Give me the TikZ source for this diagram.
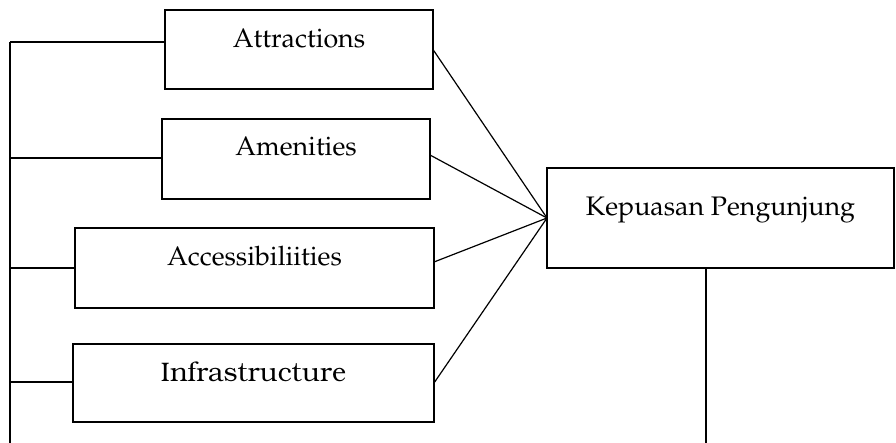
\documentclass[tikz,border=0pt]{standalone}
\IfFileExists{t1ppl.fd}{%
  \usepackage[T1]{fontenc}
  \newcommand\palfont{\fontfamily{ppl}\selectfont}
  \IfFileExists{t1pbk.fd}{\newcommand\bkfont{\fontfamily{pbk}\fontseries{l}\selectfont}}{\newcommand\bkfont{\palfont}}
}{%
  \usepackage{fontspec}
  \newfontfamily\palfont{Liberation Serif}
  \newfontfamily\bkfont{DejaVu Serif}
}
\usetikzlibrary{calc}
\tikzset{
  boxnode/.style={draw, line width=1.1pt, rectangle, anchor=north west, inner sep=0pt, outer sep=0pt},
  lbl/.style={anchor=base, inner sep=0pt, font=\fontsize{13.4}{16}\palfont},
  conn/.style={line width=0.6pt}
}
\begin{document}
\begin{tikzpicture}[x=0.5pt, y=-0.5pt]
\useasboundingbox (0,0) rectangle (896,443);
\node[boxnode, minimum width=134pt, minimum height=39.5pt] (a) at (165,10) {};
\node[boxnode, minimum width=134pt, minimum height=40pt] (m) at (162,119) {};
\node[boxnode, minimum width=179.5pt, minimum height=40pt] (c) at (75,228) {};
\node[boxnode, minimum width=180.5pt, minimum height=39pt] (i) at (73,344) {};
\node[boxnode, minimum width=173.5pt, minimum height=50pt] (k) at (547,168) {};
\node[lbl] (at) at ($(a.north)+(0,38)$) {Attractions};
\node[lbl] (mt) at ($(m.north)+(0,37)$) {Amenities};
\node[lbl] (ct) at ($(c.north)+(0,38)$) {Accessibiliities};
\node[lbl, font=\fontsize{13.4}{16}\bkfont] (it) at ($(i.north)+(0,38)$) {Infrastructure};
\node[lbl] (kt) at ($(k.north)+(0,48)$) {Kepuasan Pengunjung};
\coordinate (top) at (10,42);
\coordinate (bot) at (10,443);
\coordinate (kb) at (706,443);
\draw[conn] (top) -- (bot);
\draw[conn] (top) -- (top -| a.west);
\coordinate (s2) at (10,158);
\coordinate (s3) at (10,268);
\coordinate (s4) at (10,382);
\draw[conn] (s2) -- (s2 -| m.west);
\draw[conn] (s3) -- (s3 -| c.west);
\draw[conn] (s4) -- (s4 -| i.west);
\draw[conn] (a.east) -- (k.west);
\draw[conn] ([yshift=2pt]m.east) -- (k.west);
\draw[conn] ([yshift=3pt]c.east) -- (k.west);
\draw[conn] (i.east) -- (k.west);
\draw[conn] (k.south -| kb) -- (kb);
\end{tikzpicture}
\end{document}
